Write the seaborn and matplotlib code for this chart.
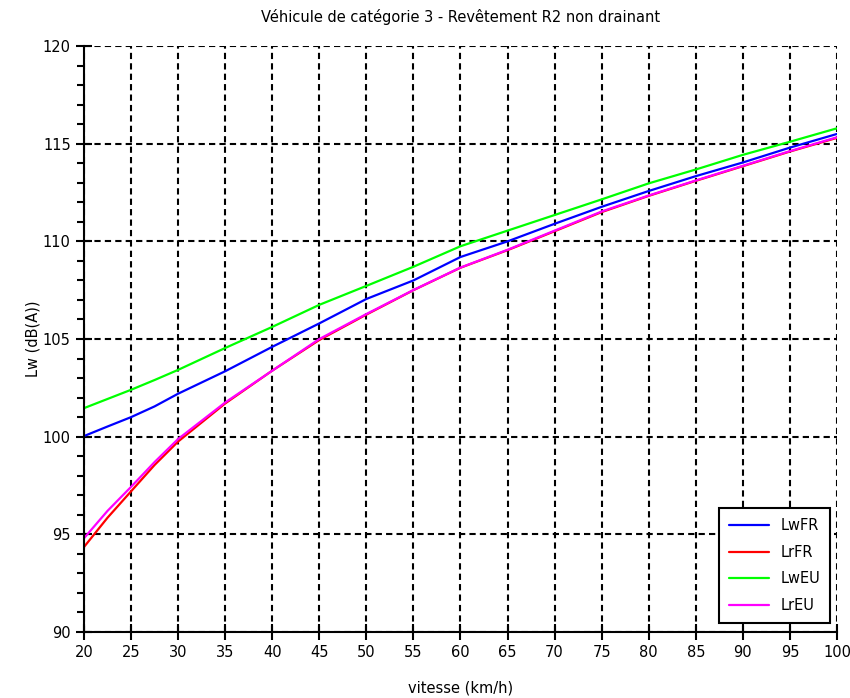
import pandas as pd
import matplotlib
matplotlib.use('Agg')
import matplotlib.pyplot as plt
from matplotlib.ticker import MultipleLocator
import seaborn as sns

# valeurs (vitesse en km/h, niveaux en dB(A))
vitesse = [20, 22.5, 25, 27.5, 30, 35, 40, 45, 50, 55, 60, 65, 70, 75, 80, 85, 90, 95, 100]
lw_fr = [100.03, 100.52, 101.0, 101.55, 102.2, 103.35, 104.6, 105.8, 107.05, 108.0,
         109.2, 110.0, 110.9, 111.77, 112.58, 113.34, 114.04, 114.8, 115.5]
lr_fr = [94.35, 95.85, 97.2, 98.55, 99.75, 101.7, 103.38, 104.95, 106.25, 107.5,
         108.65, 109.55, 110.52, 111.5, 112.33, 113.1, 113.85, 114.6, 115.3]
lw_eu = [101.46, 101.93, 102.4, 102.9, 103.42, 104.54, 105.62, 106.75, 107.72, 108.7,
         109.75, 110.55, 111.35, 112.15, 112.97, 113.68, 114.43, 115.1, 115.79]
lr_eu = [94.8, 96.2, 97.43, 98.7, 99.88, 101.75, 103.38, 105.0, 106.28, 107.51,
         108.66, 109.57, 110.55, 111.53, 112.35, 113.12, 113.87, 114.62, 115.33]

series = ['LwFR', 'LrFR', 'LwEU', 'LrEU']
couleurs = {'LwFR': '#0000ff', 'LrFR': '#ff0000', 'LwEU': '#00ff00', 'LrEU': '#ff00ff'}

df = pd.DataFrame({
    'vitesse': vitesse * 4,
    'niveau': lw_fr + lr_fr + lw_eu + lr_eu,
    'courbe': [s for s in series for _ in vitesse],
})

sns.set_style('ticks')
plt.rcParams['font.family'] = ['DejaVu Sans']
plt.rcParams['text.color'] = 'black'
plt.rcParams['axes.labelcolor'] = 'black'

fig = plt.figure(figsize=(8.5, 6.98), dpi=100)
ax = fig.add_axes([0.0988, 0.0946, 0.8859, 0.8394])

sns.lineplot(data=df, x='vitesse', y='niveau', hue='courbe', hue_order=series,
             palette=couleurs, linewidth=1.6, ax=ax, sort=True)

ax.set_xlim(20, 100)
ax.set_ylim(90, 120)
ax.xaxis.set_major_locator(MultipleLocator(5))
ax.yaxis.set_major_locator(MultipleLocator(5))
ax.yaxis.set_minor_locator(MultipleLocator(1))

ax.grid(True, which='major', color='black', linestyle=(0, (3, 2)), linewidth=1.5)
ax.set_axisbelow(True)

for s in ['top', 'right']:
    ax.spines[s].set_visible(False)
for s in ['left', 'bottom']:
    ax.spines[s].set_color('black')
    ax.spines[s].set_linewidth(1.5)

ax.tick_params(axis='both', which='major', direction='inout', length=11, width=1.5,
               labelsize=10.5, colors='black', pad=4)
ax.tick_params(axis='y', which='minor', direction='out', length=5, width=1.5, colors='black')
ax.tick_params(axis='x', which='minor', length=0)

ax.set_xlabel('vitesse (km/h)', fontsize=10.5, labelpad=15)
ax.set_ylabel('Lw (dB(A))', fontsize=10.5, labelpad=2)
ax.set_title('Véhicule de catégorie 3 - Revêtement R2 non drainant', fontsize=10.5, pad=17)

leg = ax.legend(loc='lower right', bbox_to_anchor=(0.991, 0.015), borderaxespad=0,
                fontsize=10.5, frameon=True, fancybox=False, edgecolor='black',
                framealpha=1, handlelength=2.7, labelspacing=0.8, borderpad=0.7)
leg.get_frame().set_linewidth(1.5)
for line in leg.get_lines():
    line.set_linewidth(1.6)

fig.savefig('out.png', dpi=100)
